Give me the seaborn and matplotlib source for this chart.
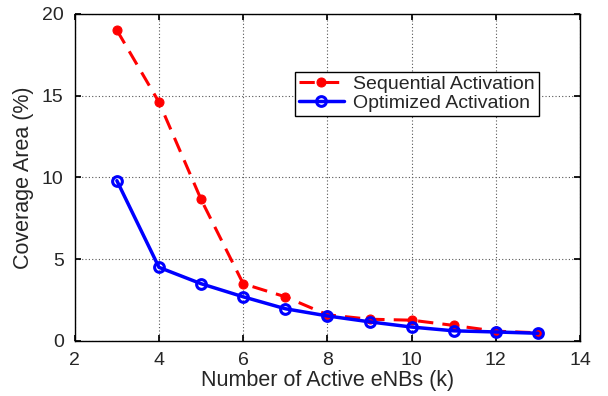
import matplotlib
matplotlib.use("Agg")
import matplotlib.pyplot as plt
import seaborn as sns
import pandas as pd

# Number of active eNBs and coverage area for each activation scheme
k_values = [3, 4, 5, 6, 7, 8, 9, 10, 11, 12, 13]
sequential = [19.0, 14.6, 8.65, 3.5, 2.7, 1.6, 1.33, 1.27, 0.95, 0.6, 0.5]
optimized = [9.8, 4.5, 3.5, 2.7, 1.97, 1.53, 1.17, 0.85, 0.62, 0.55, 0.47]
series_names = ["Sequential Activation", "Optimized Activation"]

x_ticks = [2, 4, 6, 8, 10, 12, 14]
y_ticks = [0, 5, 10, 15, 20]

df = pd.DataFrame({
    "k": k_values * 2,
    "coverage": sequential + optimized,
    "scheme": [series_names[0]] * len(k_values) + [series_names[1]] * len(k_values),
})

sns.set_theme(style="white")
plt.rcParams["font.family"] = ["Liberation Sans", "DejaVu Sans"]

fig = plt.figure(figsize=(6.08, 3.96), dpi=100)
ax = fig.add_axes([0.123, 0.139, 0.831, 0.826])

sns.lineplot(data=df[df.scheme == series_names[0]], x="k", y="coverage", ax=ax,
             color="#ff0000", linestyle=(0, (5, 3)), linewidth=2.2,
             marker="o", markersize=6.5, markerfacecolor="#ff0000",
             markeredgecolor="#ff0000", label=series_names[0])
sns.lineplot(data=df[df.scheme == series_names[1]], x="k", y="coverage", ax=ax,
             color="#0000ff", linewidth=2.5,
             marker="o", markersize=7, markerfacecolor="none",
             markeredgecolor="#0000ff", markeredgewidth=2.2, label=series_names[1])

ax.set_xlim(2, 14)
ax.set_ylim(0, 20)
ax.set_xticks(x_ticks)
ax.set_yticks(y_ticks)
ax.set_xlabel("Number of Active eNBs (k)", fontsize=15.5, labelpad=1)
ax.set_ylabel("Coverage Area (%)", fontsize=15.5, labelpad=6)
ax.tick_params(axis="both", direction="in", labelsize=14, length=4, color="black",
               top=True, right=True, bottom=True, left=True)
ax.tick_params(axis="x", pad=8)
ax.tick_params(axis="y", pad=8)
ax.grid(True, linestyle=(0, (1, 2)), color="#555555", linewidth=0.8)
for s in ax.spines.values():
    s.set_visible(True)
    s.set_color("black")
    s.set_linewidth(1.0)

leg = ax.legend(loc="upper left", bbox_to_anchor=(0.436, 0.823), fontsize=14,
                frameon=True, fancybox=False, framealpha=1, edgecolor="black",
                borderpad=0.2, labelspacing=0.05, handlelength=2.3, handletextpad=0.5,
                borderaxespad=0)
leg.get_frame().set_linewidth(1.0)

fig.savefig("out.png", dpi=100)
